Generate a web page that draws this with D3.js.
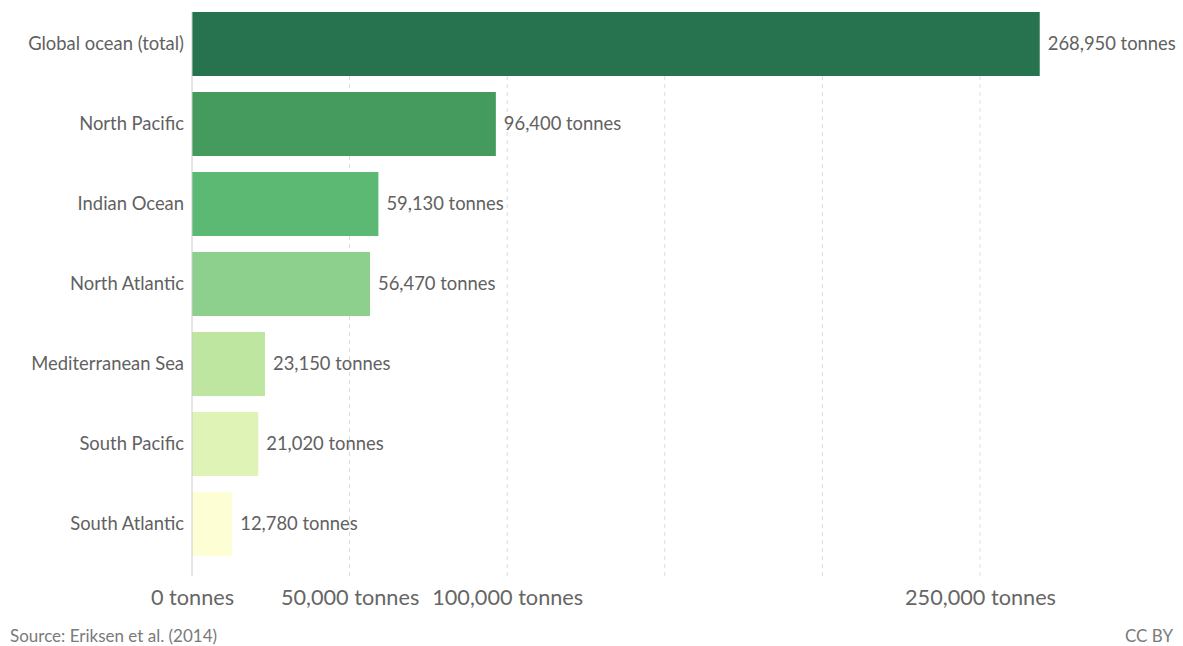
<!DOCTYPE html>
<html>
<head>
<meta charset="utf-8">
<script src="https://cdn.jsdelivr.net/npm/d3@7"></script>
<style>
  body { margin: 0; background: #fff; }
  text { font-family: Lato, "Noto Sans", sans-serif; }
</style>
</head>
<body>
<script>
// Data
const regions = ['Global ocean (total)', 'North Pacific', 'Indian Ocean', 'North Atlantic',
	'Mediterranean Sea', 'South Pacific', 'South Atlantic'];
const tonnes = [268950, 96400, 59130, 56470, 23150, 21020, 12780];
const barColors = ['#27724f', '#459a5e', '#5cb974', '#8dd08d', '#bee6a0', '#e0f3b6', '#fdfed4'];
const tickValues = [0, 50000, 100000, 150000, 200000, 250000];
const labelledTicks = [0, 50000, 100000, 250000];

const width = 1183, height = 646;
const fmt = d3.format(',');

const svg = d3.select('body')
	.append('svg')
	.attr('width', width)
	.attr('height', height);

// Scales
const x = d3.scaleLinear()
	.domain([0, 250000])
	.range([192, 980]);

const y = d3.scaleBand()
	.domain(regions)
	.range([4, 564])
	.paddingInner(0.2)
	.paddingOuter(0.1);

// Gridlines
svg.append('g')
	.selectAll('line')
	.data(tickValues.slice(1))
	.enter()
	.append('line')
	.attr('x1', d => x(d))
	.attr('x2', d => x(d))
	.attr('y1', 12)
	.attr('y2', 576)
	.attr('stroke', '#dddddd')
	.attr('stroke-dasharray', '4,4');

// Bars
svg.append('g')
	.selectAll('rect')
	.data(regions)
	.enter()
	.append('rect')
	.attr('x', x(0))
	.attr('y', d => y(d))
	.attr('width', (d, i) => x(tonnes[i]) - x(0))
	.attr('height', y.bandwidth())
	.attr('fill', (d, i) => barColors[i]);

// Baseline
svg.append('line')
	.attr('x1', x(0)).attr('x2', x(0))
	.attr('y1', 12).attr('y2', 576)
	.attr('stroke', '#cccccc');

// Category labels
svg.append('g')
	.selectAll('text')
	.data(regions)
	.enter()
	.append('text')
	.attr('x', x(0) - 8)
	.attr('y', d => y(d) + y.bandwidth() / 2)
	.attr('dy', '0.35em')
	.attr('text-anchor', 'end')
	.attr('font-size', 18.4)
	.attr('fill', '#616161')
	.text(d => d);

// Value labels
svg.append('g')
	.selectAll('text')
	.data(regions)
	.enter()
	.append('text')
	.attr('x', (d, i) => x(tonnes[i]) + 8)
	.attr('y', d => y(d) + y.bandwidth() / 2)
	.attr('dy', '0.35em')
	.attr('font-size', 18.4)
	.attr('fill', '#616161')
	.text((d, i) => fmt(tonnes[i]) + ' tonnes');

// X axis
const xAxis = svg.append('g')
	.attr('transform', 'translate(0, 590)')
	.call(d3.axisBottom(x)
		.tickValues(labelledTicks)
		.tickSize(0)
		.tickPadding(0)
		.tickFormat(d => fmt(d) + ' tonnes'));
xAxis.select('.domain').remove();
xAxis.selectAll('text')
	.attr('font-family', 'Lato, "Noto Sans", sans-serif')
	.attr('font-size', 21.7)
	.attr('fill', '#666666');

// Footer
svg.append('text')
	.attr('x', 10)
	.attr('y', 642)
	.attr('font-size', 17)
	.attr('fill', '#7a7a7a')
	.text('Source: Eriksen et al. (2014)');

svg.append('text')
	.attr('x', width - 10)
	.attr('y', 642)
	.attr('text-anchor', 'end')
	.attr('font-size', 17)
	.attr('fill', '#7a7a7a')
	.text('CC BY');
</script>
</body>
</html>
